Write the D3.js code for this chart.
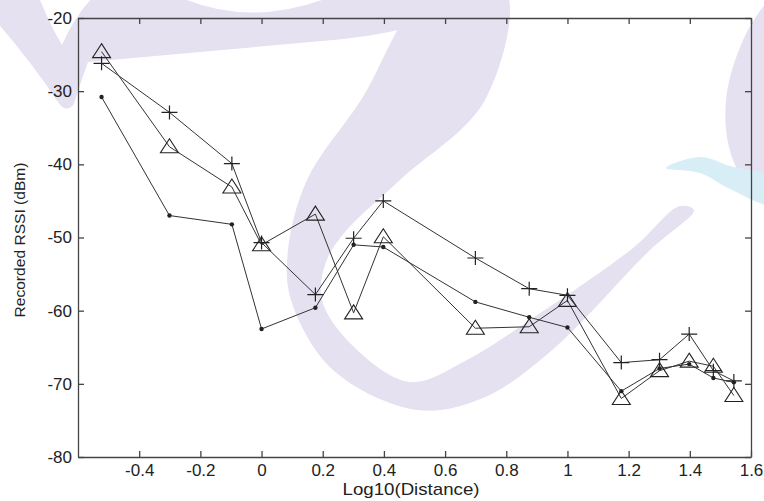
<!DOCTYPE html>
<html>
<head>
<meta charset="utf-8">
<script src="https://cdn.jsdelivr.net/npm/d3@7"></script>
<style>
  body { margin: 0; background: #fff; }
  text { font-family: 'Liberation Sans', Arial, sans-serif; fill: #222; }
</style>
</head>
<body>
<div id="chart"></div>
<script>
// log10 of the measured distances
let logDistance = [-0.523, -0.301, -0.097, 0, 0.176, 0.301, 0.398, 0.699, 0.875, 1.0, 1.176, 1.301, 1.398, 1.477, 1.544]

// recorded RSSI (dBm), one array per series
let rssiPlus = [-26.2, -32.9, -39.9, -50.7, -57.8, -50.1, -45.0, -52.8, -57.0, -57.9, -67.1, -66.7, -63.2, -68.2, -69.6]
let rssiTriangle = [-24.6, -37.6, -43.1, -51.0, -46.8, -60.3, -49.9, -62.4, -62.2, -58.6, -72.0, -68.2, -66.9, -67.6, -71.6]
let rssiDot = [-30.8, -47.0, -48.2, -62.5, -59.6, -51.0, -51.3, -58.8, -60.9, -62.3, -71.0, -67.9, -67.3, -69.2, -69.8]

let xTicks = [-0.4, -0.2, 0, 0.2, 0.4, 0.6, 0.8, 1, 1.2, 1.4, 1.6]
let yTicks = [-80, -70, -60, -50, -40, -30, -20]

let margin = { top: 18, left: 78, right: 13, bottom: 44 }
let width = 764 - margin.left - margin.right
let height = 501 - margin.top - margin.bottom

let root = d3.select('#chart')
  .append('svg')
  .attr('width', 764)
  .attr('height', 501)

// faint watermark behind the plot (decoration only)
let wm = root.append('g')
let blob = d3.line().curve(d3.curveCatmullRomClosed)
wm.append('path')
  .attr('d', 'M-5,-5 L38,-5 Q50,25 62,45 Q75,15 95,-5 L175,-5 Q250,30 335,-5 L470,-5 Q440,30 333,40 Q200,52 88,62 Q78,90 74,104 Q66,114 58,102 Q30,60 -5,20 Z')
  .attr('fill', '#e5e1f0')
wm.append('path')
  .attr('d', blob([[430, -10], [361, 100], [307, 180], [288, 250], [291, 300], [333, 370], [417, 410], [483, 398],
    [550, 352], [650, 250], [694, 210], [680, 206], [633, 248], [533, 318], [467, 360], [410, 382],
    [352, 345], [322, 300], [326, 262], [345, 232], [400, 180], [485, 100], [505, -10]]))
  .attr('fill', '#e5e1f0')
wm.append('path')
  .attr('d', blob([[780, -10], [748, 30], [726, 100], [733, 160], [766, 206], [790, 210], [790, -10]]))
  .attr('fill', '#e5e1f0')
wm.append('path')
  .attr('d', blob([[666, 168], [700, 157], [730, 166], [770, 178], [770, 204], [730, 189], [700, 173]]))
  .attr('fill', '#d8eef7')

let svg = root.append('g')
  .attr('transform', 'translate(' + margin.left + ',' + margin.top + ')')

let xPositionScale = d3.scaleLinear().domain([-0.6, 1.6]).range([0, width])
let yPositionScale = d3.scaleLinear().domain([-80, -20]).range([height, 0])

let fmt = d => String(+d.toFixed(1))

// bottom and left axes with labels, ticks pointing inward
let xAxis = d3.axisBottom(xPositionScale).tickValues(xTicks).tickFormat(fmt).tickSizeInner(-6).tickSizeOuter(0).tickPadding(7)
svg.append('g')
  .attr('class', 'axis')
  .attr('transform', 'translate(0,' + height + ')')
  .call(xAxis)

let yAxis = d3.axisLeft(yPositionScale).tickValues(yTicks).tickFormat(fmt).tickSizeInner(-6).tickSizeOuter(0).tickPadding(6)
svg.append('g')
  .attr('class', 'axis')
  .call(yAxis)

// top and right mirror ticks, no labels
svg.append('g')
  .attr('class', 'axis')
  .call(d3.axisTop(xPositionScale).tickValues(xTicks).tickFormat('').tickSizeInner(-6).tickSizeOuter(0))
svg.append('g')
  .attr('class', 'axis')
  .attr('transform', 'translate(' + width + ',0)')
  .call(d3.axisRight(yPositionScale).tickValues(yTicks).tickFormat('').tickSizeInner(-6).tickSizeOuter(0))

svg.selectAll('.axis path, .axis line').attr('stroke', '#444').attr('stroke-width', 1.3)
svg.selectAll('.axis text').attr('font-size', 17).attr('fill', '#333')
  .attr('font-family', "'Liberation Sans', Arial, sans-serif")

root.append('text')
  .attr('x', 411)
  .attr('y', 495)
  .attr('text-anchor', 'middle')
  .attr('font-size', 17)
  .attr('textLength', 137)
  .attr('lengthAdjust', 'spacingAndGlyphs')
  .text('Log10(Distance)')

root.append('text')
  .attr('transform', 'translate(25,240) rotate(-90)')
  .attr('text-anchor', 'middle')
  .attr('font-size', 14)
  .attr('textLength', 155)
  .attr('lengthAdjust', 'spacingAndGlyphs')
  .text('Recorded RSSI (dBm)')

let line = d3.line()
  .x(d => xPositionScale(d[0]))
  .y(d => yPositionScale(d[1]))

function drawSeries(values, marker) {
  let pts = logDistance.map((x, i) => [x, values[i]])
  svg.append('path')
    .datum(pts)
    .attr('d', line)
    .attr('fill', 'none')
    .attr('stroke', '#333')
    .attr('stroke-width', 1)

  let g = svg.append('g')
  if (marker === 'plus') {
    g.selectAll('path')
      .data(pts)
      .enter()
      .append('path')
      .attr('d', d => {
        let x = xPositionScale(d[0])
        let y = yPositionScale(d[1])
        return 'M' + (x - 8) + ',' + y + 'H' + (x + 8) + 'M' + x + ',' + (y - 7) + 'V' + (y + 7)
      })
      .attr('stroke', '#222')
      .attr('stroke-width', 1.2)
  } else if (marker === 'triangle') {
    g.selectAll('path')
      .data(pts)
      .enter()
      .append('path')
      .attr('d', d => {
        let x = xPositionScale(d[0])
        let y = yPositionScale(d[1])
        return 'M' + x + ',' + (y - 8) + 'L' + (x + 9) + ',' + (y + 6) + 'L' + (x - 9) + ',' + (y + 6) + 'Z'
      })
      .attr('fill', 'none')
      .attr('stroke', '#222')
      .attr('stroke-width', 1.1)
  } else {
    g.selectAll('circle')
      .data(pts)
      .enter()
      .append('circle')
      .attr('cx', d => xPositionScale(d[0]))
      .attr('cy', d => yPositionScale(d[1]))
      .attr('r', 2.2)
      .attr('fill', '#222')
  }
}

drawSeries(rssiDot, 'dot')
drawSeries(rssiTriangle, 'triangle')
drawSeries(rssiPlus, 'plus')
</script>
</body>
</html>
